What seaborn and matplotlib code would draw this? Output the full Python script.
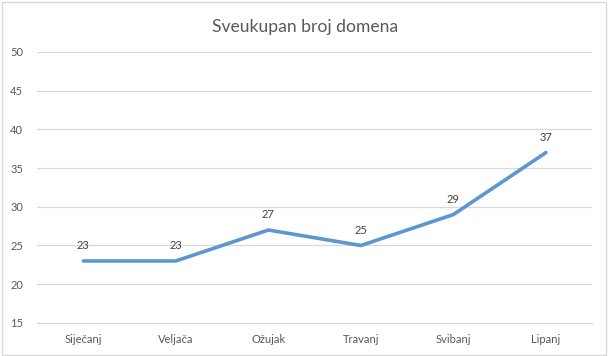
import matplotlib
matplotlib.use("Agg")
import matplotlib.pyplot as plt
import seaborn as sns
import pandas as pd

# Podaci s grafa
mjeseci = ['Siječanj', 'Veljača', 'Ožujak', 'Travanj', 'Svibanj', 'Lipanj']
domene = [23, 23, 27, 25, 29, 37]

df = pd.DataFrame({'Mjesec': mjeseci, 'Domene': domene})

sns.set_style('white')
plt.rcParams['font.family'] = ['Lato', 'DejaVu Sans']

fig = plt.figure(figsize=(6.08, 3.56), dpi=100)
ax = fig.add_axes([0.061, 0.093, 0.913, 0.761])

sns.lineplot(data=df, x='Mjesec', y='Domene', ax=ax, color='#5b97d0', linewidth=2.6, sort=False)

# Oznake vrijednosti
for i, v in enumerate(domene):
    ax.annotate(str(v), (i, v), xytext=(0, 7), textcoords='offset points',
                ha='center', va='bottom', fontsize=8, color='#404040')

ax.set_ylim(15, 50)
ax.set_xlim(-0.5, len(mjeseci) - 0.5)
ax.set_yticks(range(15, 51, 5))
ax.grid(axis='y', color='#d9d9d9', linewidth=0.9)
ax.set_axisbelow(True)
for s in ['top', 'right', 'left']:
    ax.spines[s].set_visible(False)
ax.spines['bottom'].set_color('#d9d9d9')
ax.tick_params(axis='both', length=0, labelsize=8, colors='#595959')
ax.tick_params(axis='x', pad=8)
ax.tick_params(axis='y', pad=10)
ax.set_xlabel('')
ax.set_ylabel('')

fig.text(0.502, 0.925, 'Sveukupan broj domena', ha='center', va='center',
         fontsize=12.6, color='#595959')

# Okvir oko grafa
fig.patches.append(plt.Rectangle((0.003, 0.004), 0.994, 0.99, transform=fig.transFigure,
                                 fill=False, edgecolor='#d9d9d9', linewidth=1))

fig.savefig('out.png', dpi=100)
